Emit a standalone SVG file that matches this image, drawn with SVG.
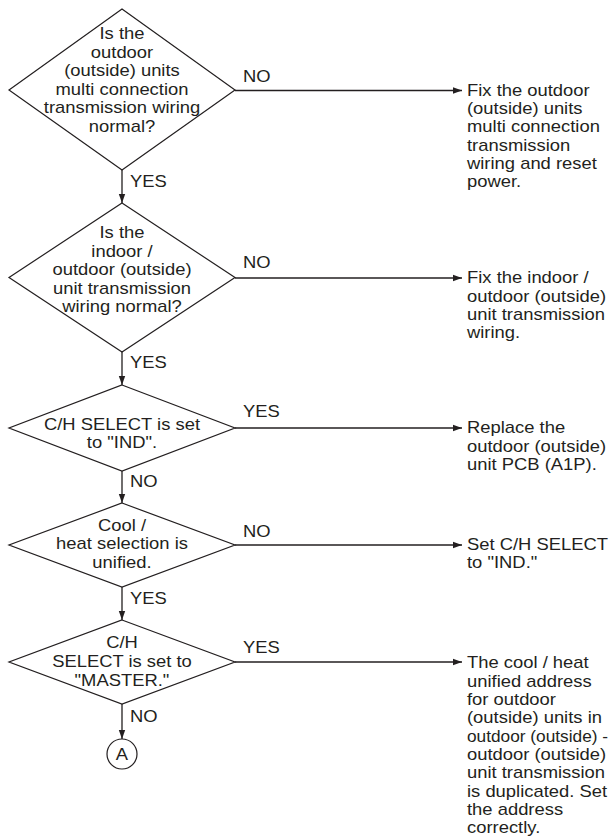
<svg xmlns="http://www.w3.org/2000/svg" width="615" height="838" viewBox="0 0 615 838">
<style>
.shape{fill:#fff;stroke:#231f20;stroke-width:1.2}
.conn{fill:none;stroke:#231f20;stroke-width:1.3}
text{font-family:"Liberation Sans",Arial,sans-serif;font-size:16px;fill:#231f20}
.c{text-anchor:middle}
</style>
<defs>
<marker id="ah" markerUnits="userSpaceOnUse" markerWidth="10" markerHeight="8" refX="9" refY="4" orient="auto">
<path d="M0,0.8 L9,4 L0,7.2 Z" fill="#231f20"/>
</marker>
</defs>
<rect width="615" height="838" fill="#fff"/>
<g id="connectors">
<path class="conn" d="M122,170 V203" marker-end="url(#ah)"/>
<path class="conn" d="M122,352 V385" marker-end="url(#ah)"/>
<path class="conn" d="M122,471 V503" marker-end="url(#ah)"/>
<path class="conn" d="M122,587 V620" marker-end="url(#ah)"/>
<path class="conn" d="M122,704 V739" marker-end="url(#ah)"/>
<path class="conn" d="M235,90.5 H462" marker-end="url(#ah)"/>
<path class="conn" d="M235,278 H462" marker-end="url(#ah)"/>
<path class="conn" d="M235,428 H462" marker-end="url(#ah)"/>
<path class="conn" d="M235,545 H462" marker-end="url(#ah)"/>
<path class="conn" d="M235,662 H462" marker-end="url(#ah)"/>
<text transform="translate(130,187) scale(1.15,1)">YES</text>
<text transform="translate(130,368) scale(1.15,1)">YES</text>
<text transform="translate(130,487) scale(1.15,1)">NO</text>
<text transform="translate(130,604) scale(1.15,1)">YES</text>
<text transform="translate(130,722) scale(1.15,1)">NO</text>
<text transform="translate(243,82) scale(1.15,1)">NO</text>
<text transform="translate(243,268) scale(1.15,1)">NO</text>
<text transform="translate(243,417) scale(1.15,1)">YES</text>
<text transform="translate(243,537) scale(1.15,1)">NO</text>
<text transform="translate(243,653) scale(1.15,1)">YES</text>
</g>
<g id="d1">
<polygon class="shape" points="122,9 235,90 122,170 9,90"/>
<text class="c" transform="translate(122,39.3) scale(1.15,1)"><tspan x="0">Is the</tspan><tspan x="0" dy="18.5">outdoor</tspan><tspan x="0" dy="18.5">(outside) units</tspan><tspan x="0" dy="18.5">multi connection</tspan><tspan x="0" dy="18.5">transmission wiring</tspan><tspan x="0" dy="18.5">normal?</tspan></text>
</g>
<g id="d2">
<polygon class="shape" points="122,203 235,277.5 122,352 9,277.5"/>
<text class="c" transform="translate(122,238.2) scale(1.15,1)"><tspan x="0">Is the</tspan><tspan x="0" dy="18.5">indoor /</tspan><tspan x="0" dy="18.5">outdoor (outside)</tspan><tspan x="0" dy="18.5">unit transmission</tspan><tspan x="0" dy="18.5">wiring normal?</tspan></text>
</g>
<g id="d3">
<polygon class="shape" points="122,385 235,428 122,471 9,428"/>
<text class="c" transform="translate(122,430) scale(1.15,1)"><tspan x="0">C/H SELECT is set</tspan><tspan x="0" dy="18.3">to "IND".</tspan></text>
</g>
<g id="d4">
<polygon class="shape" points="122,503 235,545 122,587 9,545"/>
<text class="c" transform="translate(122,530.7) scale(1.15,1)"><tspan x="0">Cool /</tspan><tspan x="0" dy="18.7">heat selection is</tspan><tspan x="0" dy="18.7">unified.</tspan></text>
</g>
<g id="d5">
<polygon class="shape" points="122,620 235,662 122,704 9,662"/>
<text class="c" transform="translate(122,648) scale(1.15,1)"><tspan x="0">C/H</tspan><tspan x="0" dy="18.8">SELECT is set to</tspan><tspan x="0" dy="18.8">"MASTER."</tspan></text>
</g>
<g id="connA">
<circle class="shape" cx="122" cy="754" r="15"/>
<text class="c" transform="translate(122,760) scale(1.15,1)">A</text>
</g>
<g id="r1">
<text transform="translate(467,95.7) scale(1.15,1)"><tspan x="0">Fix the outdoor</tspan><tspan x="0" dy="18.35">(outside) units</tspan><tspan x="0" dy="18.35">multi connection</tspan><tspan x="0" dy="18.35">transmission</tspan><tspan x="0" dy="18.35">wiring and reset</tspan><tspan x="0" dy="18.35">power.</tspan></text>
</g>
<g id="r2">
<text transform="translate(467,283.3) scale(1.15,1)"><tspan x="0">Fix the indoor /</tspan><tspan x="0" dy="18.35">outdoor (outside)</tspan><tspan x="0" dy="18.35">unit transmission</tspan><tspan x="0" dy="18.35">wiring.</tspan></text>
</g>
<g id="r3">
<text transform="translate(467,433.3) scale(1.15,1)"><tspan x="0">Replace the</tspan><tspan x="0" dy="18.35">outdoor (outside)</tspan><tspan x="0" dy="18.35">unit PCB (A1P).</tspan></text>
</g>
<g id="r4">
<text transform="translate(467,550) scale(1.15,1)"><tspan x="0">Set C/H SELECT</tspan><tspan x="0" dy="18.35">to "IND."</tspan></text>
</g>
<g id="r5">
<text transform="translate(467,668.3) scale(1.15,1)"><tspan x="0">The cool / heat</tspan><tspan x="0" dy="18.33">unified address</tspan><tspan x="0" dy="18.33">for outdoor</tspan><tspan x="0" dy="18.33">(outside) units in</tspan></text>
<text transform="translate(467,741.6) scale(1.08,1)">outdoor (outside) -</text>
<text transform="translate(467,759.95) scale(1.15,1)"><tspan x="0">outdoor (outside)</tspan><tspan x="0" dy="18.33">unit transmission</tspan><tspan x="0" dy="18.33">is duplicated. Set</tspan><tspan x="0" dy="18.33">the address</tspan><tspan x="0" dy="18.33">correctly.</tspan></text>
</g>
</svg>
